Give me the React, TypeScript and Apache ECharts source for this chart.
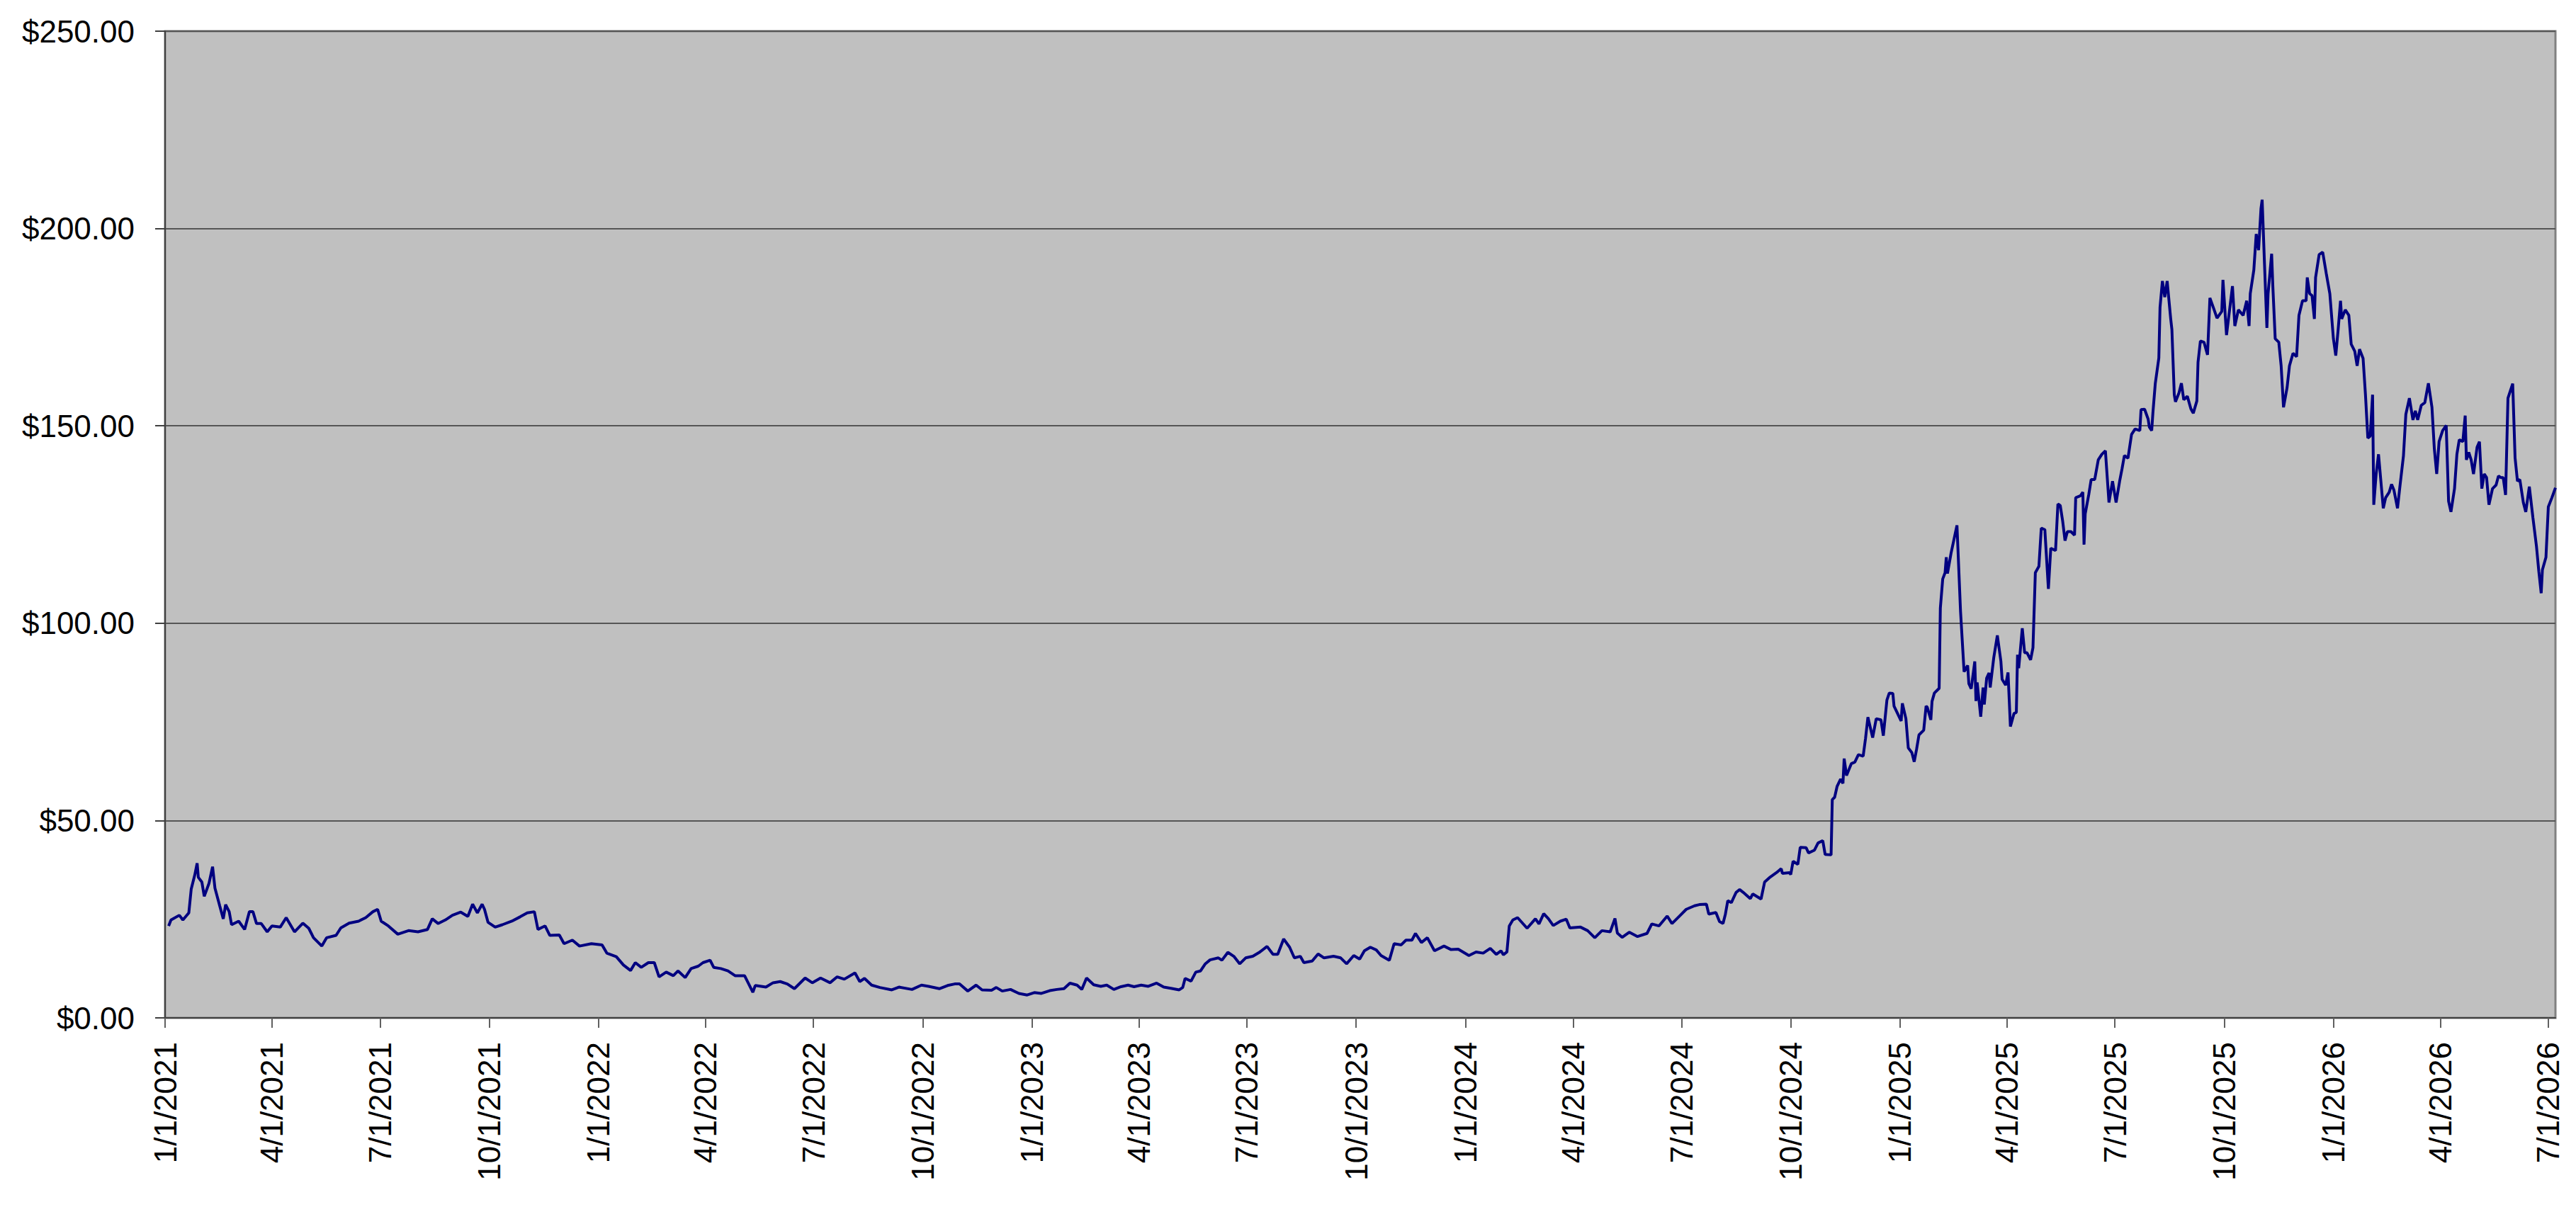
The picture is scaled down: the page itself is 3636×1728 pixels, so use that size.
import React, { useEffect, useRef } from "react";
import * as echarts from "echarts";

// Series start date; each point is stored as days elapsed since this date.
const START_DATE = "2021-01-01";

const dayOffsets: number[] = [
  3, 5, 12, 15, 20, 22, 25, 27, 28, 31, 33, 37, 40, 42, 46, 49, 51, 54, 56, 62,
  67, 71, 74, 77, 81, 86, 90, 97, 102, 109, 116, 121, 125, 132, 136, 144, 148, 155, 163, 169,
  175, 179, 182, 188, 196, 205, 213, 221, 225, 230, 236, 242, 249, 255, 259, 263, 267, 269, 272, 278,
  284, 292, 299, 305, 311, 314, 320, 324, 332, 336, 343, 349, 359, 368, 372, 380, 386, 392, 396, 401,
  407, 412, 416, 422, 428, 432, 438, 443, 449, 453, 459, 462, 468, 474, 480, 488, 495, 497, 506, 512,
  518, 524, 530, 539, 545, 552, 560, 566, 572, 581, 585, 589, 595, 602, 612, 618, 629, 637, 643, 652,
  659, 665, 669, 676, 683, 688, 696, 700, 705, 712, 719, 726, 732, 738, 745, 751, 757, 762, 768, 772,
  776, 782, 788, 793, 799, 805, 811, 816, 822, 828, 835, 841, 847, 854, 857, 859, 864, 868, 872, 876,
  880, 887, 890, 895, 900, 905, 910, 916, 922, 928, 933, 937, 942, 947, 951, 956, 959, 966, 971, 976,
  984, 990, 995, 1001, 1006, 1010, 1015, 1020, 1024, 1031, 1035, 1041, 1045, 1050, 1053, 1058, 1063, 1069, 1077, 1083,
  1089, 1098, 1104, 1110, 1116, 1121, 1125, 1127, 1130, 1132, 1135, 1139, 1147, 1154, 1157, 1161, 1165, 1169, 1175, 1180,
  1183, 1192, 1198, 1204, 1210, 1217, 1221, 1223, 1227, 1233, 1240, 1248, 1252, 1258, 1265, 1269, 1275, 1281, 1288, 1292,
  1298, 1300, 1306, 1309, 1312, 1314, 1316, 1319, 1323, 1326, 1329, 1335, 1337, 1344, 1347, 1351, 1357, 1361, 1362, 1368,
  1369, 1371, 1375, 1377, 1382, 1384, 1389, 1392, 1396, 1398, 1403, 1404, 1406, 1408, 1411, 1413, 1414, 1416, 1420, 1423,
  1426, 1430, 1432, 1434, 1438, 1441, 1445, 1447, 1450, 1452, 1455, 1456, 1459, 1462, 1463, 1466, 1468, 1471, 1473, 1475,
  1477, 1481, 1483, 1484, 1487, 1488, 1490, 1494, 1495, 1497, 1499, 1500, 1501, 1504, 1509, 1512, 1515, 1518, 1519, 1521,
  1524, 1525, 1526, 1529, 1531, 1532, 1534, 1536, 1537, 1540, 1543, 1546, 1547, 1550, 1552, 1554, 1557, 1559, 1560, 1561,
  1564, 1566, 1568, 1571, 1573, 1575, 1578, 1580, 1583, 1586, 1588, 1592, 1594, 1596, 1598, 1600, 1602, 1605, 1608, 1609,
  1613, 1615, 1616, 1617, 1620, 1622, 1625, 1628, 1631, 1634, 1637, 1640, 1643, 1646, 1648, 1650, 1653, 1656, 1659, 1663,
  1664, 1667, 1670, 1671, 1673, 1674, 1676, 1679, 1680, 1682, 1684, 1686, 1689, 1690, 1692, 1693, 1696, 1698, 1700, 1703,
  1706, 1708, 1711, 1712, 1714, 1717, 1720, 1722, 1725, 1728, 1732, 1733, 1736, 1738, 1741, 1743, 1746, 1750, 1753, 1755,
  1756, 1759, 1761, 1763, 1765, 1766, 1768, 1770, 1771, 1774, 1775, 1777, 1780, 1782, 1784, 1787, 1789, 1792, 1795, 1797,
  1800, 1803, 1804, 1806, 1808, 1810, 1811, 1814, 1817, 1820, 1823, 1826, 1828, 1830, 1832, 1833, 1836, 1839, 1841, 1844,
  1846, 1848, 1851, 1853, 1855, 1857, 1859, 1860, 1862, 1864, 1868, 1870, 1873, 1875, 1877, 1880, 1882, 1885, 1887, 1890,
  1893, 1895, 1897, 1900, 1903, 1906, 1909, 1911, 1913, 1915, 1918, 1921, 1923, 1925, 1928, 1930, 1932, 1935, 1937, 1938,
  1940, 1942, 1944, 1947, 1949, 1951, 1953, 1955, 1957, 1960, 1963, 1965, 1967, 1969, 1971, 1973, 1977, 1979, 1981, 1983,
  1986, 1988, 1991, 1994, 1997, 1999, 2001, 2002, 2005, 2007, 2010, 2013,
];

const prices: number[] = [
  23.3, 24.8, 26.0, 24.8, 26.6, 32.6, 36.2, 39.2, 35.6, 34.4, 30.8, 34.1, 38.3, 32.9, 28.4, 25.1, 28.7, 26.9, 23.6, 24.5,
  22.4, 26.9, 26.9, 23.9, 23.9, 21.8, 23.3, 23.0, 25.4, 21.8, 24.0, 22.7, 20.3, 18.2, 20.3, 20.9, 22.8, 24.0, 24.5, 25.4,
  26.9, 27.5, 24.5, 23.3, 21.2, 22.1, 21.8, 22.4, 25.1, 23.9, 24.8, 26.0, 26.8, 25.7, 28.8, 26.6, 28.8, 27.5, 24.2, 23.0,
  23.6, 24.5, 25.6, 26.6, 26.9, 22.4, 23.3, 20.9, 21.0, 18.8, 19.7, 18.2, 18.8, 18.5, 16.4, 15.5, 13.4, 12.0, 14.0, 12.8,
  14.0, 14.0, 10.4, 11.6, 10.7, 11.9, 10.2, 12.5, 13.1, 14.0, 14.6, 12.8, 12.5, 11.9, 10.7, 10.7, 6.5, 8.2, 7.8, 8.9,
  9.2, 8.6, 7.4, 10.1, 8.9, 10.1, 8.9, 10.4, 9.8, 11.4, 9.2, 10.0, 8.3, 7.7, 7.1, 7.8, 7.2, 8.3, 8.0, 7.4,
  8.2, 8.6, 8.6, 6.8, 8.3, 7.1, 7.0, 7.7, 6.8, 7.2, 6.2, 5.8, 6.4, 6.2, 6.9, 7.2, 7.4, 8.8, 8.3, 7.2,
  10.1, 8.4, 8.0, 8.3, 7.2, 7.9, 8.3, 7.9, 8.3, 8.0, 8.8, 7.8, 7.5, 7.1, 7.7, 10.0, 9.3, 11.6, 11.9, 13.7,
  14.7, 15.2, 14.6, 16.6, 15.6, 13.7, 15.2, 15.6, 16.7, 18.1, 16.1, 16.1, 20.0, 17.9, 15.2, 15.6, 14.0, 14.4, 16.2, 15.2,
  15.6, 15.2, 13.7, 15.8, 14.9, 17.0, 17.9, 17.2, 15.8, 14.6, 18.8, 18.5, 19.7, 19.7, 21.4, 19.1, 20.3, 17.0, 18.2, 17.3,
  17.4, 15.8, 16.7, 16.4, 17.6, 16.1, 17.0, 16.0, 16.7, 23.3, 24.8, 25.4, 22.7, 25.1, 23.8, 26.4, 25.1, 23.4, 24.5, 25.0,
  22.8, 23.0, 22.1, 20.3, 22.1, 21.8, 25.2, 21.5, 20.4, 21.7, 20.6, 21.4, 23.8, 23.3, 25.8, 23.9, 25.7, 27.5, 28.4, 28.7,
  28.8, 26.3, 26.7, 24.4, 23.9, 26.3, 29.7, 29.2, 31.8, 32.5, 31.8, 30.2, 31.4, 30.1, 34.4, 35.5, 36.8, 37.8, 36.6, 36.8,
  36.3, 39.7, 38.9, 43.2, 43.1, 41.8, 42.5, 44.3, 44.9, 41.4, 41.3, 55.3, 55.9, 58.6, 60.5, 59.4, 65.7, 61.4, 64.4, 64.8,
  66.7, 66.3, 70.8, 76.2, 71.0, 75.8, 75.5, 71.5, 80.5, 82.3, 82.2, 79.0, 77.1, 75.2, 79.7, 75.8, 68.4, 67.2, 64.9, 68.1,
  71.7, 72.9, 79.0, 78.7, 75.5, 80.2, 82.3, 83.5, 103.8, 111.2, 112.8, 116.7, 112.6, 117.7, 124.8, 103.0, 87.7, 89.3, 84.7, 83.4,
  90.3, 80.3, 85.0, 76.3, 83.7, 79.4, 86.1, 87.4, 83.7, 91.3, 96.9, 90.3, 85.8, 84.3, 87.5, 73.8, 77.1, 77.4, 92.0, 88.6,
  98.7, 92.5, 92.5, 90.7, 93.8, 112.8, 114.4, 124.1, 123.7, 108.7, 119.0, 118.4, 130.2, 129.8, 125.9, 120.9, 123.2, 123.2, 122.3, 131.8,
  132.3, 133.2, 119.9, 127.7, 132.6, 136.4, 136.4, 141.4, 142.8, 143.7, 130.6, 136.0, 130.6, 136.0, 139.1, 142.5, 141.8, 147.8, 149.2, 148.8,
  154.1, 154.2, 151.7, 149.7, 148.8, 153.3, 160.7, 167.2, 180.0, 186.7, 182.6, 186.7, 177.1, 174.4, 157.9, 156.1, 158.4, 160.8, 156.6, 157.5,
  154.3, 153.2, 156.3, 166.1, 171.5, 171.2, 168.0, 182.4, 179.9, 177.3, 179.0, 187.0, 173.0, 178.0, 185.4, 175.3, 179.4, 178.0, 181.7, 175.3,
  183.5, 189.5, 198.6, 194.5, 205.0, 207.3, 190.9, 174.8, 183.5, 193.6, 185.4, 172.1, 171.2, 165.2, 154.7, 159.7, 165.2, 168.4, 167.5, 178.0,
  181.7, 181.7, 187.6, 183.5, 183.0, 177.1, 187.6, 193.4, 194.0, 188.6, 183.5, 172.1, 167.8, 174.4, 181.7, 177.1, 179.4, 178.0, 170.7, 168.9,
  165.2, 169.4, 167.1, 157.9, 146.9, 147.4, 157.9, 130.0, 137.8, 142.8, 129.1, 131.8, 133.2, 135.2, 133.7, 129.1, 134.6, 142.4, 152.9, 157.0,
  151.5, 153.8, 151.5, 155.2, 155.9, 160.8, 154.7, 144.2, 137.8, 146.0, 148.8, 150.1, 130.9, 128.2, 134.1, 142.8, 146.5, 146.0, 152.6, 141.4,
  143.3, 141.4, 137.8, 144.6, 146.0, 134.1, 137.8, 136.9, 130.0, 134.1, 135.0, 137.3, 136.9, 136.9, 132.5, 157.0, 160.7, 141.9, 136.0, 136.4,
  130.5, 128.2, 134.6, 126.8, 119.5, 113.1, 107.6, 113.5, 116.7, 129.5, 131.8, 134.3,
];

const xTickLabels: string[] = [
  "1/1/2021", "4/1/2021", "7/1/2021", "10/1/2021",
  "1/1/2022", "4/1/2022", "7/1/2022", "10/1/2022",
  "1/1/2023", "4/1/2023", "7/1/2023", "10/1/2023",
  "1/1/2024", "4/1/2024", "7/1/2024", "10/1/2024",
  "1/1/2025", "4/1/2025", "7/1/2025", "10/1/2025",
  "1/1/2026", "4/1/2026", "7/1/2026",
];

const Y_MIN = 0;
const Y_MAX = 250;
const Y_STEP = 50;

export default function App() {
  const ref = useRef<HTMLDivElement>(null);

  useEffect(() => {
    document.body.style.margin = "0";
    document.body.style.overflow = "hidden";
    if (!ref.current) return;
    const chart = echarts.init(ref.current, null, { renderer: "svg" });

    const [sy, sm, sd] = START_DATE.split("-").map(Number);
    const start = Date.UTC(sy, sm - 1, sd);
    const DAY = 86400000;
    const data = dayOffsets.map((d, i) => [start + d * DAY, prices[i]]);
    const tickValues = xTickLabels.map((s) => {
      const [m, d, y] = s.split("/").map(Number);
      return Date.UTC(y, m - 1, d);
    });
    const labelByValue = new Map<number, string>();
    tickValues.forEach((v, i) => labelByValue.set(v, xTickLabels[i]));
    const font = "'Liberation Sans', Arial, Helvetica, sans-serif";

    chart.setOption({
      animation: false,
      backgroundColor: "#ffffff",
      grid: {
        left: 233,
        right: 29,
        top: 44,
        bottom: 291,
        show: true,
        backgroundColor: "#C0C0C0",
        borderColor: "#808080",
        borderWidth: 3,
      },
      xAxis: {
        type: "value",
        min: start,
        max: data[data.length - 1][0] as number,
        axisLine: { show: true, onZero: false, lineStyle: { color: "#404040", width: 2 } },
        axisTick: {
          show: true,
          customValues: tickValues,
          length: 14,
          lineStyle: { color: "#606060", width: 2 },
        },
        axisLabel: {
          customValues: tickValues,
          rotate: 90,
          margin: 34,
          formatter: (v: number) => labelByValue.get(v) ?? "",
          fontFamily: font,
          fontSize: 44,
          color: "#000000",
        },
        splitLine: { show: false },
      },
      yAxis: {
        type: "value",
        min: Y_MIN,
        max: Y_MAX,
        interval: Y_STEP,
        axisLine: { show: true, lineStyle: { color: "#404040", width: 2 } },
        axisTick: { show: true, length: 14, lineStyle: { color: "#404040", width: 2 } },
        axisLabel: {
          margin: 43,
          formatter: (v: number) => `$${v.toFixed(2)}`,
          fontFamily: font,
          fontSize: 44,
          color: "#000000",
        },
        splitLine: { show: true, lineStyle: { color: "#555555", width: 2 } },
      },
      series: [
        {
          type: "line",
          data,
          showSymbol: false,
          symbol: "none",
          lineStyle: { color: "#000080", width: 4 },
          itemStyle: { color: "#000080" },
        },
      ],
    });

    return () => chart.dispose();
  }, []);

  return <div ref={ref} style={{ width: 3636, height: 1728 }} />;
}
